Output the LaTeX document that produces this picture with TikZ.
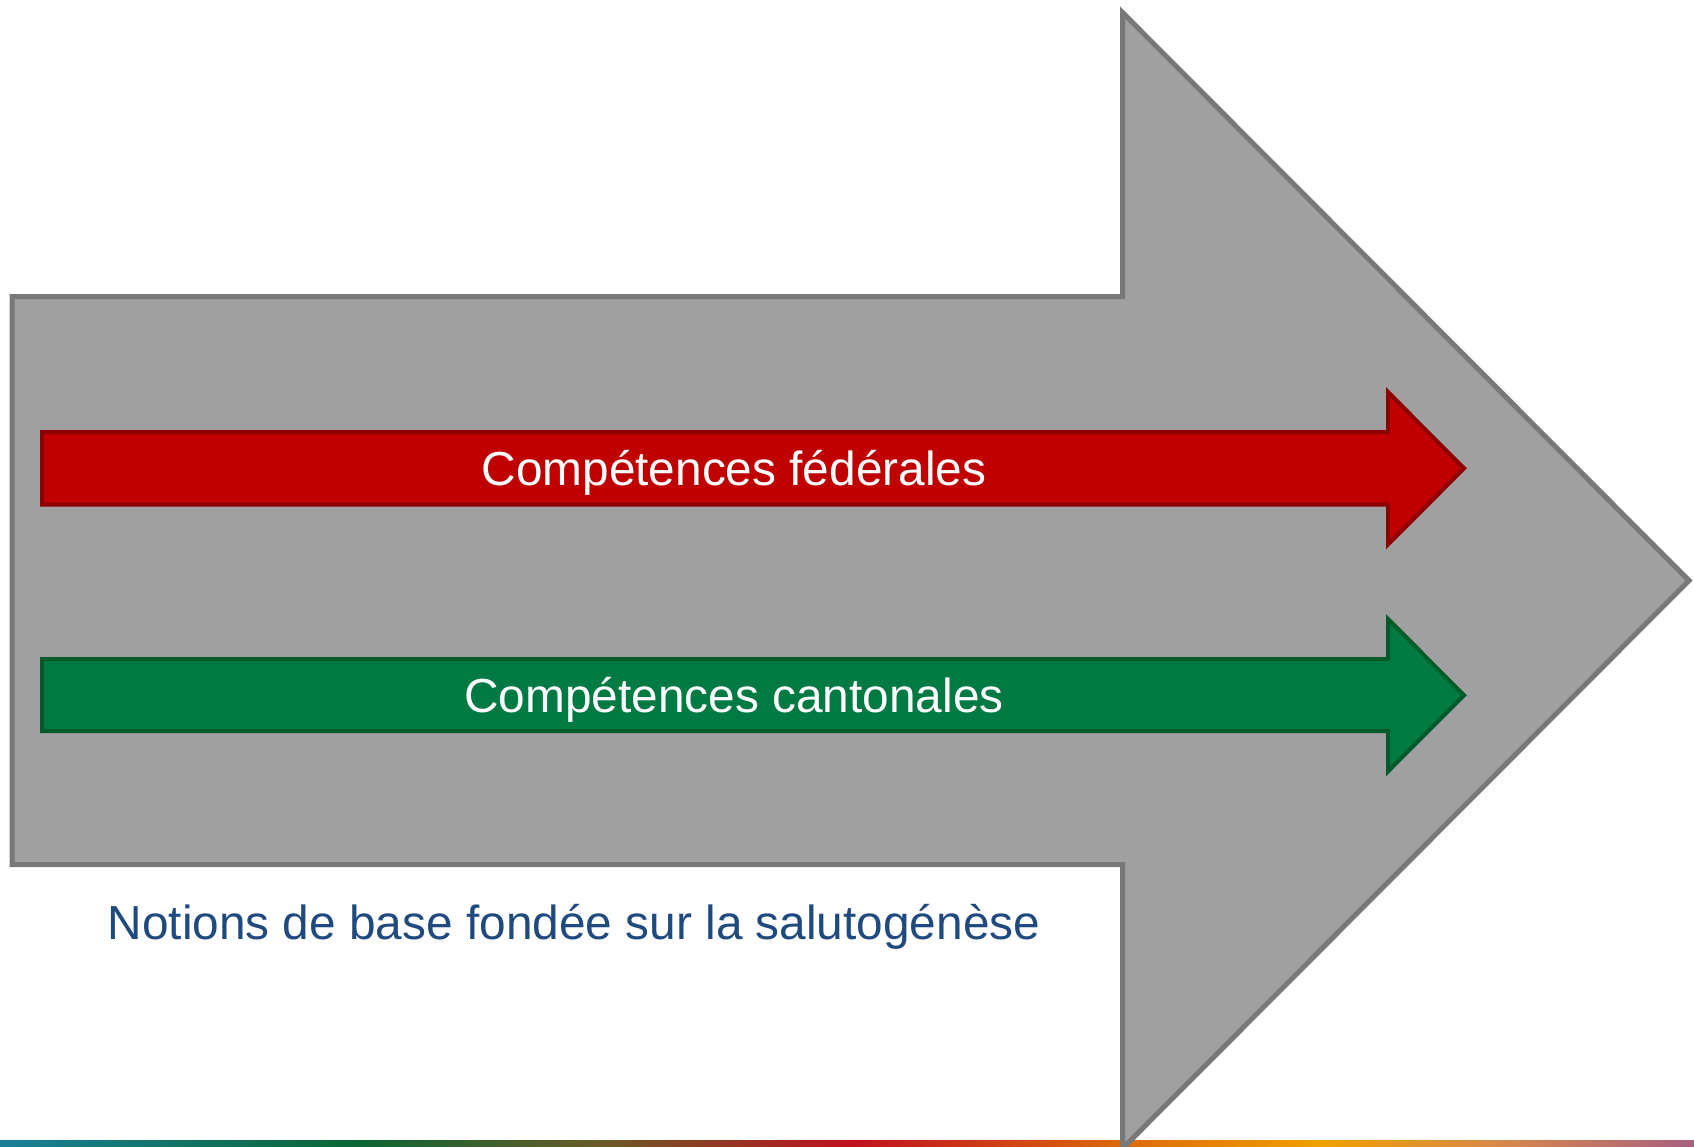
\documentclass[tikz,border=0pt]{standalone}
\usepackage{fontspec}
\setmainfont{Liberation Sans}
\definecolor{bigfill}{HTML}{A0A0A0}
\definecolor{bigline}{HTML}{787878}
\definecolor{redfill}{HTML}{C00000}
\definecolor{redline}{HTML}{8C0000}
\definecolor{grnfill}{HTML}{007A43}
\definecolor{grnline}{HTML}{005A2A}
\definecolor{bluetext}{HTML}{1F4A80}
\definecolor{gA}{HTML}{1A8098}
\definecolor{gB}{HTML}{0A6633}
\definecolor{gC}{HTML}{6A5A28}
\definecolor{gD}{HTML}{C0101E}
\definecolor{gE}{HTML}{DC6A0C}
\definecolor{gF}{HTML}{F0A000}
\definecolor{gG}{HTML}{D8884A}
\definecolor{gH}{HTML}{A86080}
\begin{document}
\begin{tikzpicture}[x=1pt,y=-1pt,
  bigarrow/.style={fill=bigfill,draw=bigline,line width=5pt},
  redarrow/.style={fill=redfill,draw=redline,line width=4pt},
  grnarrow/.style={fill=grnfill,draw=grnline,line width=4pt},
  label/.style={font=\fontsize{47.8}{57}\selectfont,inner sep=0pt,anchor=base}]
\useasboundingbox (0,0) rectangle (1694,1146);
\fill[white] (0,0) rectangle (1694,1146);
% gradient bar
\shade[left color=gA,right color=gB] (0,1140) rectangle (357.5,1146);
\shade[left color=gB,right color=gC] (357,1140) rectangle (600.5,1146);
\shade[left color=gC,right color=gD] (600,1140) rectangle (853.5,1146);
\shade[left color=gD,right color=gE] (853,1140) rectangle (1124.5,1146);
\shade[left color=gE,right color=gF] (1124,1140) rectangle (1318.5,1146);
\shade[left color=gF,right color=gG] (1318,1140) rectangle (1500.5,1146);
\shade[left color=gG,right color=gH] (1500,1140) rectangle (1694,1146);
% big gray arrow
\draw[bigarrow] (12,296.5) -- (1122.5,296.5) -- (1122.5,12.5) -- (1689,580.5)
  -- (1122.5,1148.5) -- (1122.5,864.5) -- (12,864.5) -- cycle;
% red arrow
\draw[redarrow] (42,432) -- (1388,432) -- (1388,392) -- (1464,468.3)
  -- (1388,544.6) -- (1388,504.7) -- (42,504.7) -- cycle;
% green arrow
\draw[grnarrow] (42,659) -- (1388,659) -- (1388,619) -- (1464,695.2)
  -- (1388,771.4) -- (1388,731) -- (42,731) -- cycle;
\node[label,white] (fed) at (734,485) {Compétences fédérales};
\node[label,white] (can) at (734,712) {Compétences cantonales};
\node[label,bluetext] (base) at (574,939) {Notions de base fondée sur la salutogénèse};
\end{tikzpicture}
\end{document}
